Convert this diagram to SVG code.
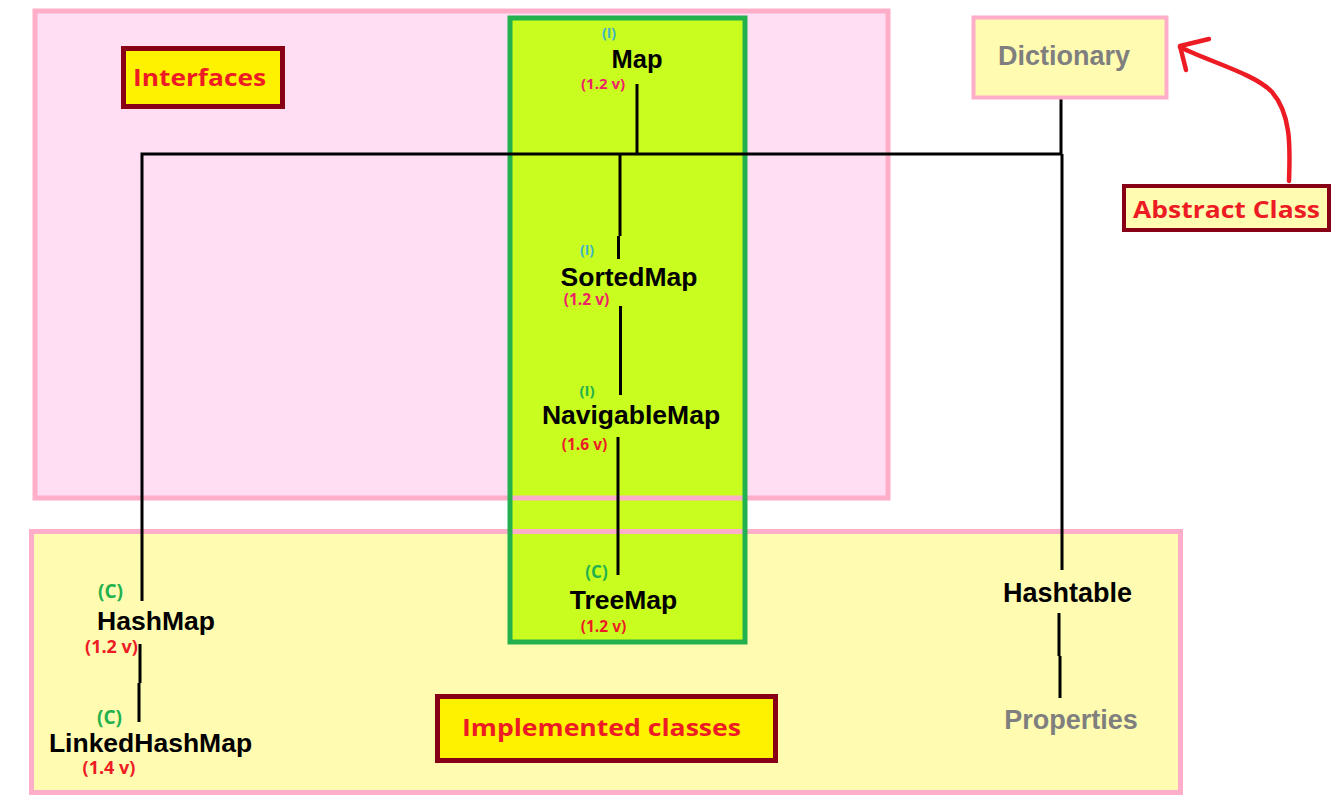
<svg xmlns="http://www.w3.org/2000/svg" width="1337" height="812" viewBox="0 0 1337 812">
<style>
.name{font-family:"Liberation Sans",Arial,sans-serif;font-weight:bold;font-size:26.5px;fill:#000;}
.gray{fill:#7F7F7F;font-size:27px;}
.ver{font-family:"Open Sans","Noto Sans",sans-serif;font-weight:bold;font-size:15.5px;fill:#ED1C24;}
.big{font-size:18px;}
.tag{font-family:"Open Sans","Noto Sans",sans-serif;font-weight:bold;font-size:14px;}
.lbl{font-family:"Open Sans","Noto Sans",sans-serif;font-weight:bold;font-size:23px;fill:#ED1C24;}
.conn{fill:none;stroke:#000;stroke-width:3;}
.pinkB{fill:none;stroke:#FFAEC9;stroke-width:5;}
.darkB{stroke:#880015;stroke-width:5;}
</style>
<rect width="1337" height="812" fill="#fff"/>
<g id="regions">
<rect x="35" y="11" width="853" height="487" fill="#FFDDF2"/>
<rect x="31.5" y="531.5" width="1149" height="261" fill="#FFFBB0"/>
<rect x="510" y="18" width="235" height="624" fill="#C9FD20"/>
<rect class="pinkB" x="35" y="11" width="853" height="487"/>
<rect class="pinkB" x="31.5" y="531.5" width="1149" height="261"/>
<rect x="510" y="18" width="235" height="624" fill="none" stroke="#22B14C" stroke-width="5"/>
</g>
<g id="connectors">
<path class="conn" d="M637 84 V154"/>
<path class="conn" d="M142 601 V154 H1062"/>
<path class="conn" d="M620 154 V236 M618.5 236 V259"/>
<path class="conn" d="M620.5 306 V395"/>
<path class="conn" d="M618 437 V575"/>
<path class="conn" d="M140 644 V683 M139 683 V722"/>
<path class="conn" d="M1061 74 V154 M1062 154 V570"/>
<path class="conn" d="M1059 613 V656 M1060 656 V698"/>
<path fill="none" stroke="#ED1C24" stroke-width="4.5" stroke-linecap="round" stroke-linejoin="round" d="M1289 181 C1290 150 1292 115 1272 92 C1255 74 1210 62 1180 47"/>
<path fill="none" stroke="#ED1C24" stroke-width="4.5" stroke-linecap="round" stroke-linejoin="round" d="M1209 39 L1180 46 L1186 70"/>
</g>
<g id="node-dictionary">
<rect x="973.5" y="17.5" width="193" height="80" fill="#FFFBB0" stroke="#FFAEC9" stroke-width="4"/>
<text class="name gray" x="1064" y="65" text-anchor="middle">Dictionary</text>
</g>
<g id="label-interfaces">
<rect class="darkB" x="123.5" y="48.5" width="159" height="58" fill="#FFF200"/>
<text class="lbl" x="133" y="86" textLength="133" lengthAdjust="spacingAndGlyphs">Interfaces</text>
</g>
<g id="label-abstract">
<rect x="1124" y="186" width="205" height="44" fill="#FFFBB0" stroke="#880015" stroke-width="4"/>
<text class="lbl" x="1133" y="218" textLength="187" lengthAdjust="spacingAndGlyphs">Abstract Class</text>
</g>
<g id="label-implemented">
<rect class="darkB" x="437.5" y="696.5" width="338" height="64" fill="#FFF200"/>
<text class="lbl" x="462" y="736" style="font-size:24px" textLength="279" lengthAdjust="spacingAndGlyphs">Implemented classes</text>
</g>
<g id="node-map">
<text class="tag" x="609" y="38" text-anchor="middle" style="font-size:14px;fill:#3CB4C8">(I)</text>
<text class="name" x="637" y="68" text-anchor="middle" style="font-size:25.5px">Map</text>
<text class="ver" x="603" y="89" text-anchor="middle" style="font-size:15px;fill:#EE2266">(1.2 v)</text>
</g>
<g id="node-sortedmap">
<text class="tag" x="587" y="255" text-anchor="middle" style="font-size:14px;fill:#3CB4C8">(I)</text>
<text class="name" x="629" y="286" text-anchor="middle">SortedMap</text>
<text class="ver" x="586.5" y="305" text-anchor="middle" style="fill:#EE2266">(1.2 v)</text>
</g>
<g id="node-navigablemap">
<text class="tag" x="587" y="396" text-anchor="middle" style="font-size:15px;fill:#22B14C">(I)</text>
<text class="name" x="631" y="424" text-anchor="middle">NavigableMap</text>
<text class="ver" x="584.5" y="450" text-anchor="middle">(1.6 v)</text>
</g>
<g id="node-treemap">
<text class="tag" x="596.5" y="578" text-anchor="middle" style="font-size:17px;fill:#22B14C">(C)</text>
<text class="name" x="623.5" y="609" text-anchor="middle">TreeMap</text>
<text class="ver" x="603.5" y="632" text-anchor="middle">(1.2 v)</text>
</g>
<g id="node-hashmap">
<text class="tag" x="110.5" y="598" text-anchor="middle" style="font-size:19px;fill:#22B14C">(C)</text>
<text class="name" x="156" y="630" text-anchor="middle">HashMap</text>
<text class="ver big" x="111.5" y="653" text-anchor="middle">(1.2 v)</text>
</g>
<g id="node-linkedhashmap">
<text class="tag" x="109.5" y="724" text-anchor="middle" style="font-size:19px;fill:#22B14C">(C)</text>
<text class="name" x="150.5" y="752" text-anchor="middle">LinkedHashMap</text>
<text class="ver big" x="109" y="774" text-anchor="middle">(1.4 v)</text>
</g>
<g id="node-hashtable">
<text class="name" x="1067.5" y="602" text-anchor="middle" style="font-size:27px">Hashtable</text>
</g>
<g id="node-properties">
<text class="name gray" x="1071" y="729" text-anchor="middle">Properties</text>
</g>
</svg>
